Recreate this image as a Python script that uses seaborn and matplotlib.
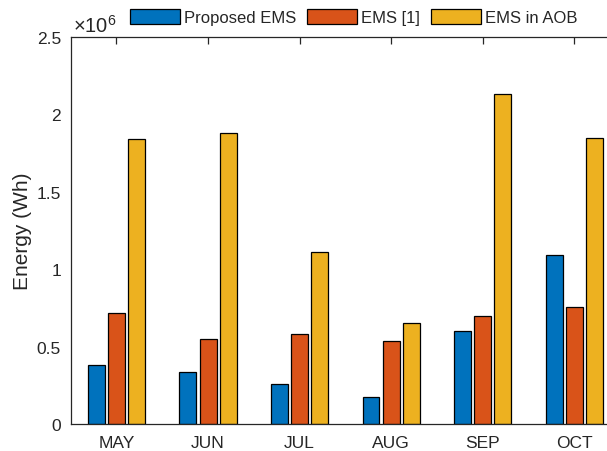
import numpy as np
import pandas as pd
import matplotlib
matplotlib.use("Agg")
import matplotlib.pyplot as plt
import seaborn as sns
from matplotlib.transforms import offset_copy

months = ["MAY", "JUN", "JUL", "AUG", "SEP", "OCT"]
schemes = ["Proposed EMS", "EMS [1]", "EMS in AOB"]
proposed_ems = [0.383e6, 0.333e6, 0.258e6, 0.174e6, 0.598e6, 1.092e6]
ems_ref1 = [0.714e6, 0.550e6, 0.581e6, 0.534e6, 0.699e6, 0.753e6]
ems_aob = [1.837e6, 1.877e6, 1.112e6, 0.650e6, 2.127e6, 1.843e6]
colors = ["#0072BD", "#D95319", "#EDB120"]
y_ticks = [0, 0.5e6, 1e6, 1.5e6, 2e6, 2.5e6]
y_tick_labels = ["0", "0.5", "1", "1.5", "2", "2.5"]

df = pd.DataFrame({
    "month": months * 3,
    "energy": proposed_ems + ems_ref1 + ems_aob,
    "scheme": [s for s in schemes for _ in months],
})

sns.set_style("white")
plt.rcParams["font.family"] = ["Liberation Sans", "DejaVu Sans"]
plt.rcParams["mathtext.fontset"] = "custom"
plt.rcParams["mathtext.rm"] = "Liberation Sans"

ink = "#262626"
fig = plt.figure(figsize=(6.07, 4.52), dpi=100)
ax = fig.add_axes([0.1165, 0.0597, 0.905, 0.857])

sns.barplot(data=df, x="month", y="energy", hue="scheme", order=months,
            hue_order=schemes, palette=colors, width=0.66, gap=0.16,
            edgecolor="black", linewidth=0.9, errorbar=None, saturation=1,
            ax=ax)

ax.set_xlim(-0.5, 5.5)
ax.set_ylim(0, 2.5e6)
ax.set_yticks(y_ticks)
ax.set_yticklabels(y_tick_labels)
# exponent shown above the y axis
ax.text(0.004, 1.0, r"$\times 10^{6}$",
        transform=offset_copy(ax.transAxes, fig=fig, x=0, y=5, units="dots"),
        ha="left", va="baseline", fontsize=14.5, color=ink)
ax.set_xlabel("")
ax.set_ylabel("Energy (Wh)", fontsize=15, color=ink, labelpad=3)

for s in ax.spines.values():
    s.set_color(ink)
    s.set_linewidth(0.9)
ax.tick_params(axis="both", direction="in", length=5, width=0.9,
               colors=ink, labelsize=12.5, top=True, right=True)
ax.tick_params(axis="x", pad=8)
ax.tick_params(axis="y", pad=7)

if ax.get_legend() is not None:
    ax.get_legend().remove()
handles = [plt.Rectangle((0, 0), 1, 1, facecolor=c, edgecolor="black",
                         linewidth=0.9) for c in colors]
fig.legend(handles, schemes, loc="center", bbox_to_anchor=(0.583, 0.96),
           ncol=3, frameon=False, fontsize=12, handlelength=3.0,
           handleheight=1.0, handletextpad=0.25, columnspacing=0.65,
           borderpad=0.2)

fig.savefig("out.png", dpi=100)
